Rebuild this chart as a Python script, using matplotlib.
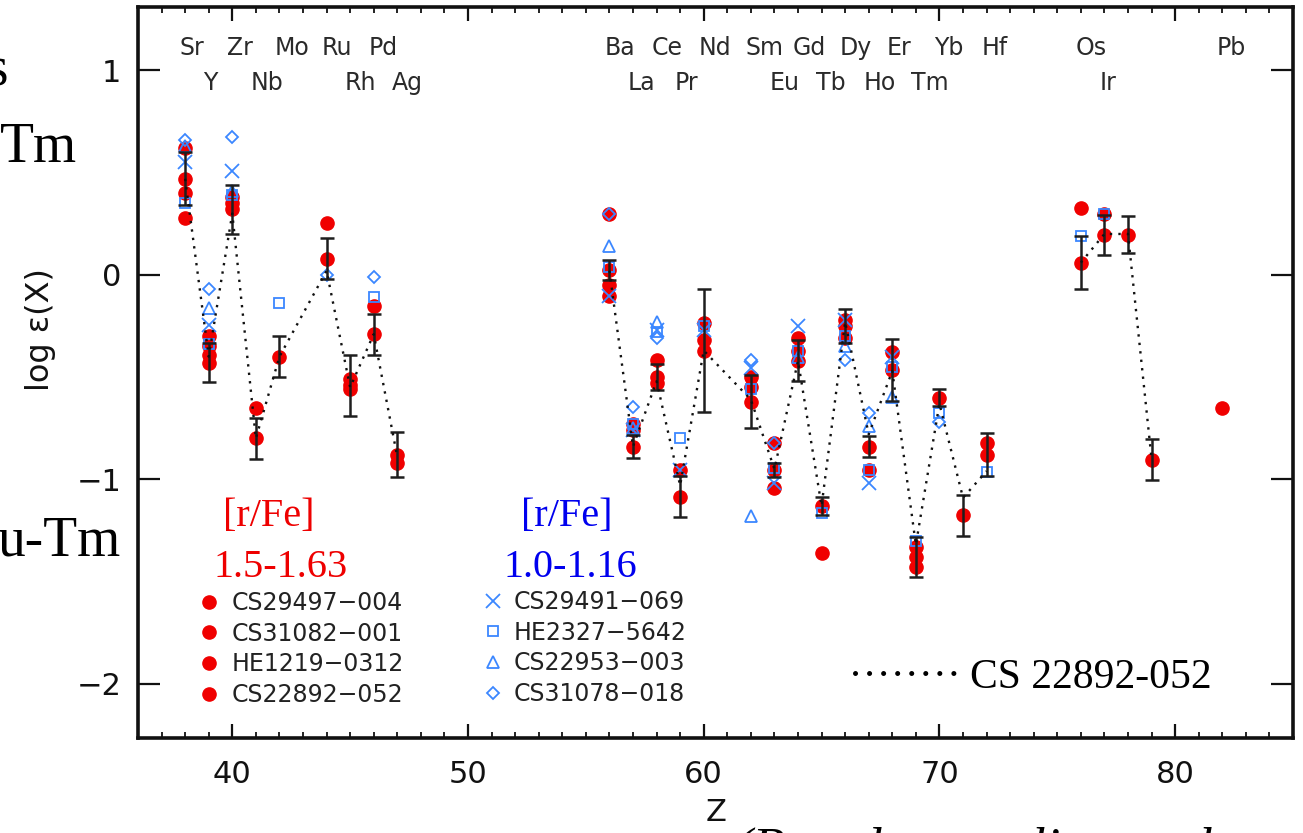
import numpy as np
import matplotlib
matplotlib.use("Agg")
import matplotlib.pyplot as plt

nan = np.nan

# ---------------- data ----------------
elements = ['Sr', 'Y', 'Zr', 'Nb', 'Mo', 'Ru', 'Rh', 'Pd', 'Ag',
            'Ba', 'La', 'Ce', 'Pr', 'Nd', 'Sm', 'Eu', 'Gd', 'Tb', 'Dy', 'Ho',
            'Er', 'Tm', 'Yb', 'Lu', 'Hf', 'Os', 'Ir', 'Pt', 'Au', 'Pb']
Z = [38, 39, 40, 41, 42, 44, 45, 46, 47,
     56, 57, 58, 59, 60, 62, 63, 64, 65, 66, 67, 68, 69, 70, 71, 72,
     76, 77, 78, 79, 82]

# red stars ([r/Fe] 1.5-1.63)
cs29497_004 = [0.62, -0.30, 0.38, nan, nan, nan, nan, nan, nan,
               0.30, nan, nan, nan, nan, nan, nan, nan, -1.36, nan, nan,
               nan, nan, nan, nan, nan, nan, nan, nan, nan, nan]
cs31082_001 = [0.40, -0.35, 0.35, -0.65, nan, 0.255, -0.51, -0.15, -0.92,
               -0.05, -0.73, -0.415, -0.955, -0.235, -0.50, -0.82, -0.31, nan, -0.22, -0.955,
               -0.375, -1.33, nan, nan, -0.82, 0.325, 0.30, nan, nan, -0.65]
he1219_0312 = [0.28, -0.39, nan, nan, nan, nan, -0.56, nan, nan,
               -0.105, -0.76, -0.53, nan, -0.32, -0.55, -1.04, -0.37, nan, -0.31, nan,
               nan, -1.43, nan, nan, nan, nan, nan, nan, nan, nan]
cs22892_052 = [0.47, -0.43, 0.32, -0.80, -0.40, 0.08, -0.54, -0.29, -0.88,
               0.025, -0.84, -0.50, -1.085, -0.37, -0.62, -0.955, -0.42, -1.13, -0.25, -0.84,
               -0.465, -1.38, -0.60, -1.175, -0.88, 0.06, 0.195, 0.196, -0.905, nan]
cs22892_err = [0.13, 0.095, 0.12, 0.10, 0.10, 0.10, 0.15, 0.10, 0.11,
               0.05, 0.055, 0.065, 0.10, 0.30, 0.13, 0.035, 0.10, 0.045, 0.085, 0.05,
               0.15, 0.10, 0.04, 0.10, 0.105, 0.13, 0.10, 0.09, 0.10, nan]
# dotted CS 22892-052 curve
cs22892_line = [0.47, -0.40, 0.30, -0.80, -0.40, 0.02, -0.55, -0.29, -0.89,
                0.02, -0.84, -0.52, -1.03, -0.37, -0.61, -0.95, -0.42, -1.13, -0.23, -0.78,
                -0.47, -1.32, -0.63, -1.09, -0.96, 0.06, 0.20, 0.20, -0.90, nan]

# blue stars ([r/Fe] 1.0-1.16)
cs29491_069 = [0.55, -0.245, 0.51, nan, nan, nan, nan, nan, nan,
               -0.105, -0.76, -0.27, -0.955, -0.27, -0.457, -1.02, -0.25, nan, -0.22, -1.02,
               -0.40, nan, nan, nan, nan, nan, nan, nan, nan, nan]
he2327_5642 = [0.35, -0.34, 0.39, nan, -0.14, nan, nan, -0.11, nan,
               0.04, -0.73, -0.28, -0.80, -0.25, -0.56, -0.945, -0.37, -1.165, -0.30, -0.955,
               -0.45, -1.30, -0.677, nan, -0.963, 0.19, 0.30, nan, nan, nan]
cs22953_003 = [0.63, -0.16, 0.41, nan, nan, nan, nan, nan, nan,
               0.14, -0.75, -0.23, nan, nan, -1.18, nan, -0.40, nan, -0.35, -0.74,
               -0.595, nan, nan, nan, nan, nan, nan, nan, nan, nan]
cs31078_018 = [0.66, -0.07, 0.675, nan, nan, 0.0, nan, -0.01, nan,
               0.30, -0.645, -0.31, nan, nan, -0.415, -0.82, nan, nan, -0.415, -0.677,
               nan, nan, -0.718, nan, nan, nan, nan, nan, nan, nan]

label_row1 = ['Sr', 'Zr', 'Mo', 'Ru', 'Pd', 'Ba', 'Ce', 'Nd', 'Sm', 'Gd', 'Dy', 'Er', 'Yb', 'Hf', 'Os', 'Pb']
label_row1_z = [38, 40, 42, 44, 46, 56, 58, 60, 62, 64, 66, 68, 70, 72, 76, 82]
label_row2 = ['Y', 'Nb', 'Rh', 'Ag', 'La', 'Pr', 'Eu', 'Tb', 'Ho', 'Tm', 'Ir']
label_row2_z = [39, 41, 45, 47, 57, 59, 63, 65, 67, 69, 77]

red_names = ['CS29497\u2212004', 'CS31082\u2212001', 'HE1219\u22120312', 'CS22892\u2212052']
blue_names = ['CS29491\u2212069', 'HE2327\u22125642', 'CS22953\u2212003', 'CS31078\u2212018']

# ---------------- figure ----------------
W, H = 1303, 833
plt.rcParams['font.family'] = ['DejaVu Sans']
fig = plt.figure(figsize=(W / 100, H / 100), dpi=100)
L, R, T, B = 138, 1293, 7, 738
ax = fig.add_axes([L / W, 1 - B / H, (R - L) / W, (B - T) / H])

def fx(x):
    return x / W

def fy(y):
    return 1 - y / H

RED = '#f00000'
BLUE = '#3b87ff'
Za = np.array(Z, dtype=float)

# red stars
red_handles = []
for vals, name in zip([cs29497_004, cs31082_001, he1219_0312, cs22892_052], red_names):
    h, = ax.plot(Za, vals, ls='none', marker='o', ms=9.5, color=RED, mec=RED, zorder=3, label=name)
    red_handles.append(h)

# blue stars
blue_handles = []
for vals, name, mk, ms in zip([cs29491_069, he2327_5642, cs22953_003, cs31078_018], blue_names,
                              ['x', 's', '^', 'D'], [10, 7.5, 8, 6.5]):
    h, = ax.plot(Za, vals, ls='none', marker=mk, ms=ms, mfc='none', mec=BLUE, mew=1.3,
                 zorder=4, label=name)
    blue_handles.append(h)

# error bars
ax.errorbar(Za, cs22892_052, yerr=cs22892_err, fmt='none', ecolor='#1e1e1e',
            elinewidth=1.8, capsize=5, capthick=1.8, zorder=5)

# dotted CS 22892-052 curve, split into separate groups
line_arr = np.array(cs22892_line, dtype=float)
groups = np.split(np.arange(len(Z)), np.where(np.diff(Za) > 3)[0] + 1)
for g in groups:
    ax.plot(Za[g], line_arr[g], color='#111111', lw=1.7, ls=(0, (1.0, 2.6)), zorder=6)

# axes
ax.set_xlim(36, 85)
ax.set_ylim(-2.265, 1.31)
ax.set_xticks([40, 50, 60, 70, 80])
ax.set_xticks(np.arange(37, 85, 1), minor=True)
ax.set_yticks([-2, -1, 0, 1])
ax.tick_params(axis='both', which='both', direction='in', top=True, right=True, colors='#111111')
ax.tick_params(axis='x', which='major', length=10, width=1.6, labelsize=22, pad=16)
ax.tick_params(axis='x', which='minor', length=4.5, width=1.3)
ax.tick_params(axis='y', which='major', length=16, width=1.6, labelsize=22, pad=12)
for s in ax.spines.values():
    s.set_linewidth(2.6)
    s.set_color('#111111')

ax.set_xlabel('Z', fontsize=22, color='#111111')
ax.xaxis.set_label_coords((716 - L) / (R - L), (B - 798) / (B - T))
ax.set_ylabel('log \u03b5(X)', fontsize=23, color='#111111')
ax.yaxis.set_label_coords((40 - L) / (R - L), (B - 330) / (B - T))
ax.yaxis.label.set_verticalalignment('center')

# element labels
for name, z in zip(label_row1, label_row1_z):
    ax.text(z - 0.22, 1.11, name, fontsize=17, color='#2a2a2a', ha='left', va='center')
for name, z in zip(label_row2, label_row2_z):
    ax.text(z - 0.22, 0.94, name, fontsize=17, color='#2a2a2a', ha='left', va='center')

# legends
leg1 = ax.legend(handles=red_handles, loc='upper left', bbox_to_anchor=(fx(197), fy(591)),
                 bbox_transform=fig.transFigure, frameon=False, fontsize=17, handlelength=1.0,
                 handletextpad=0.47, borderpad=0, borderaxespad=0, labelspacing=0.28,
                 labelcolor='#222222')
ax.add_artist(leg1)
leg2 = ax.legend(handles=blue_handles, loc='upper left', bbox_to_anchor=(fx(481), fy(590)),
                 bbox_transform=fig.transFigure, frameon=False, fontsize=17, handlelength=1.0,
                 handletextpad=0.40, borderpad=0, borderaxespad=0, labelspacing=0.28,
                 labelcolor='#222222')

serif = ['Liberation Serif', 'DejaVu Serif']
fig.text(fx(269), fy(526), '[r/Fe]', fontsize=29, color='#ee0000', family=serif, ha='center', va='baseline')
fig.text(fx(281), fy(577), '1.5-1.63', fontsize=29, color='#ee0000', family=serif, ha='center', va='baseline')
fig.text(fx(567), fy(526), '[r/Fe]', fontsize=29, color='#0000ee', family=serif, ha='center', va='baseline')
fig.text(fx(570), fy(577), '1.0-1.16', fontsize=29, color='#0000ee', family=serif, ha='center', va='baseline')

# dotted key for CS 22892-052 curve
ax.plot([(855 - L) / (R - L), (957 - L) / (R - L)], [(B - 673) / (B - T)] * 2,
        transform=ax.transAxes, color='black', lw=3.6, ls=(0, (0.01, 2.8)),
        dash_capstyle='round', solid_capstyle='round', zorder=6)
fig.text(fx(970), fy(688), 'CS 22892-052', fontsize=30, color='black', family=serif,
         ha='left', va='baseline')

# fragments of surrounding slide text
fig.text(fx(8), fy(85), 's', fontsize=40, color='black', family=serif, ha='right', va='baseline')
fig.text(fx(77), fy(162), 'Tm', fontsize=40, color='black', family=serif, ha='right', va='baseline')
fig.text(fx(120), fy(556), 'u-Tm', fontsize=40, color='black', family=serif, ha='right', va='baseline')
fig.text(fx(735), fy(864), '(Based on earlier work and', fontsize=38, color='black',
         family=serif, style='italic', ha='left', va='baseline')

fig.savefig('out.png', dpi=100, facecolor='white')
